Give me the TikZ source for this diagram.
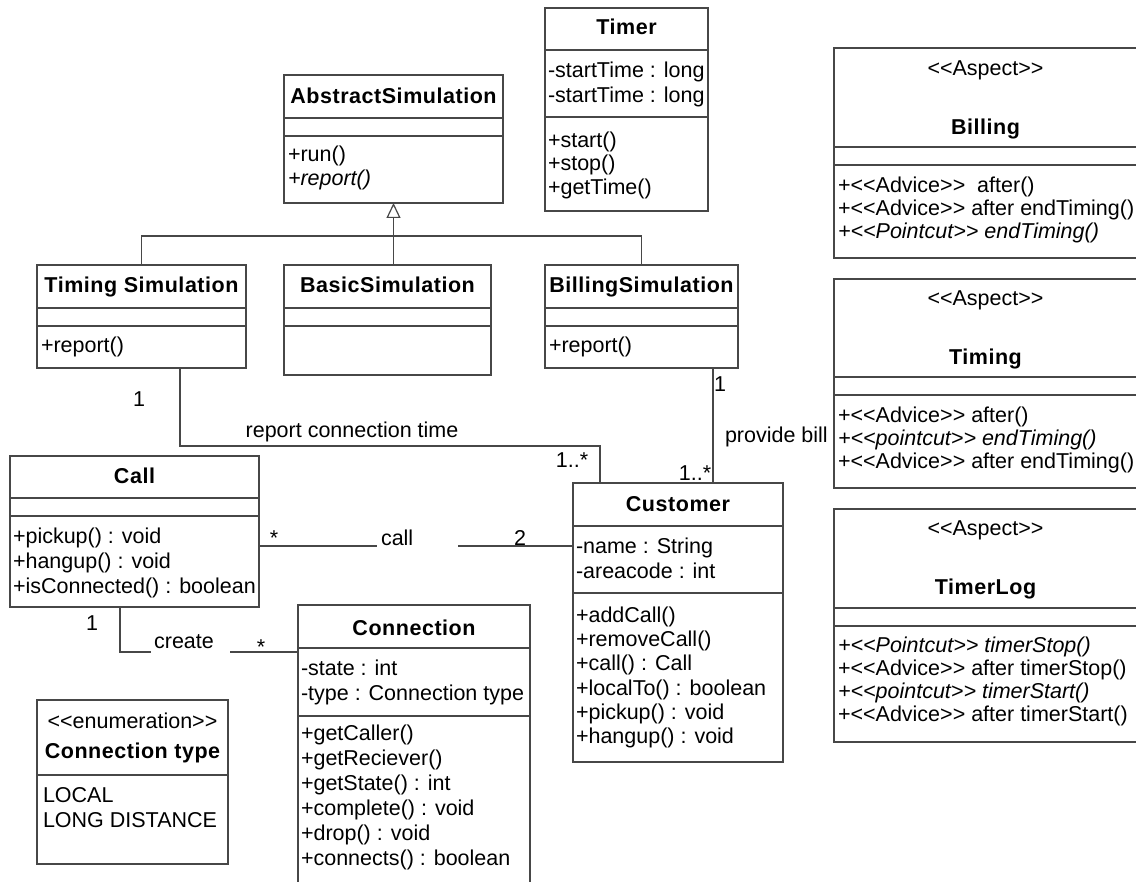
\documentclass[tikz,border=0pt]{standalone}
\usepackage{fontspec}
\newfontfamily\umlfont{Liberation Sans}[BoldFeatures={LetterSpace=2.5}]
\usetikzlibrary{arrows.meta}
\tikzset{
  umlline/.style={draw=black!72, line width=1.2pt},
  clsbox/.style={umlline, rectangle, inner sep=0pt, outer sep=0pt, anchor=north west},
  txt/.style={inner sep=0pt, outer sep=0pt, text=black,
    font=\umlfont\fontsize{21.5}{24}\selectfont},
  ttl/.style={txt, anchor=base, font=\umlfont\bfseries\fontsize{21.5}{24}\selectfont},
  lbl/.style={txt, anchor=base},
}
% class rectangle: name, left, top, right, bottom
\newcommand{\umlbox}[5]{%
  \node[clsbox, minimum width={#4-#2}, minimum height={#5-#3}] (#1) at (#2,#3) {};}
% compartment divider: box, y
\newcommand{\umlsep}[2]{\draw[umlline] (#1.west |- 0,#2) -- (#1.east |- 0,#2);}
% compartment lines: prefix, x, first baseline, line step, list
\newcommand{\umltext}[5]{%
  \foreach \lntext [count=\i] in {#5} {%
    \node[txt, anchor=base west] (#1-\i) at (#2, {#3+(\i-1)*#4}) {\lntext};}}
\begin{document}
\begin{tikzpicture}[x=1pt, y=-1pt]
\clip (0,0) rectangle (1136,882);
\fill[white] (0,0) rectangle (1136,882);

% ---- AbstractSimulation
\umlbox{abs}{284}{75}{503}{203}
\umlsep{abs}{118}\umlsep{abs}{136}
\node[ttl] (abs-name) at (abs.north |- 0,104) {AbstractSimulation};
\umltext{absm}{288}{162}{23.5}{+run(), \itshape +report()}

% ---- Timer
\umlbox{timer}{545}{8}{708}{211}
\umlsep{timer}{50}\umlsep{timer}{117}
\node[ttl] (timer-name) at (timer.north |- 0,35) {Timer};
\umltext{timera}{548}{77.5}{25}{-startTime : long, -startTime : long}
\umltext{timerm}{548}{147.5}{23.5}{+start(), +stop(), +getTime()}

% ---- Aspect: Billing
\umlbox{billing}{834}{48}{1137}{258}
\umlsep{billing}{147}\umlsep{billing}{165}
\node[lbl] (billing-st) at (billing.north |- 0,75.5) {<<Aspect>>};
\node[ttl] (billing-name) at (billing.north |- 0,134.5) {Billing};
\umltext{billingm}{838}{193}{23}{+<<Advice>>\ \ after(), +<<Advice>> after endTiming(), \itshape +<<Pointcut>> endTiming()}

% ---- Aspect: Timing
\umlbox{timing}{834}{279}{1137}{488}
\umlsep{timing}{377}\umlsep{timing}{395}
\node[lbl] (timing-st) at (timing.north |- 0,305.5) {<<Aspect>>};
\node[ttl] (timing-name) at (timing.north |- 0,364.5) {Timing};
\umltext{timingm}{838}{422.5}{23}{+<<Advice>> after(), \itshape +<<pointcut>> endTiming(), +<<Advice>> after endTiming()}

% ---- Aspect: TimerLog
\umlbox{tlog}{834}{509}{1137}{742}
\umlsep{tlog}{608}\umlsep{tlog}{626}
\node[lbl] (tlog-st) at (tlog.north |- 0,535.5) {<<Aspect>>};
\node[ttl] (tlog-name) at (tlog.north |- 0,594.5) {TimerLog};
\umltext{tlogm}{838}{652.5}{23}{\itshape +<<Pointcut>> timerStop(), +<<Advice>> after timerStop(), \itshape +<<pointcut>> timerStart(), +<<Advice>> after timerStart()}

% ---- Simulations
\umlbox{timsim}{37}{265}{246}{368}
\umlsep{timsim}{308}\umlsep{timsim}{326}
\node[ttl] (timsim-name) at (timsim.north |- 0,293) {Timing Simulation};
\umltext{timsimm}{41}{352.5}{24}{+report()}

\umlbox{basic}{284}{265}{491}{375}
\umlsep{basic}{308}\umlsep{basic}{326}
\node[ttl] (basic-name) at (basic.north |- 0,293) {BasicSimulation};

\umlbox{bilsim}{545}{265}{738}{368}
\umlsep{bilsim}{308}\umlsep{bilsim}{326}
\node[ttl] (bilsim-name) at (bilsim.north |- 0,293) {BillingSimulation};
\umltext{bilsimm}{549}{352.5}{24}{+report()}

% ---- Call
\umlbox{call}{10}{456}{259}{607}
\umlsep{call}{498}\umlsep{call}{516}
\node[ttl] (call-name) at (call.north |- 0,484) {Call};
\umltext{callm}{13}{543.5}{25}{+pickup() : void, +hangup() : void, +isConnected() : boolean}

% ---- Customer
\umlbox{cust}{573}{483}{783}{762}
\umlsep{cust}{526}\umlsep{cust}{593}
\node[ttl] (cust-name) at (cust.north |- 0,512) {Customer};
\umltext{custa}{576}{553.5}{24.5}{-name : String, -areacode : int}
\umltext{custm}{576}{622.5}{24.2}{+addCall(), +removeCall(), +call() : Call, +localTo() : boolean, +pickup() : void, +hangup() : void}

% ---- Connection
\umlbox{conn}{298}{605}{530}{900}
\umlsep{conn}{648}\umlsep{conn}{716}
\node[ttl] (conn-name) at (conn.north |- 0,635) {Connection};
\umltext{conna}{301}{675.5}{25}{-state : int, -type : Connection type}
\umltext{connm}{301}{740.5}{25}{+getCaller(), +getReciever(), +getState() : int, +complete() : void, +drop() : void, +connects() : boolean}

% ---- Enumeration
\umlbox{ctype}{37}{700}{228}{864}
\umlsep{ctype}{775}
\node[lbl] (ctype-st) at (ctype.north |- 0,728) {<<enumeration>>};
\node[ttl] (ctype-name) at (ctype.north |- 0,758.5) {Connection type};
\umltext{ctypel}{43}{802}{25}{LOCAL, LONG DISTANCE}

% ---- Generalization
\coordinate (genbar) at (abs.south |- 0,236);
\draw[umlline] (timsim.north) |- (genbar) -| (bilsim.north);
\draw[umlline, -{Triangle[open, width=14pt, length=15pt]}] (basic.north -| abs.south) -- (abs.south);

% ---- report connection time
\coordinate (rcbend) at (600,446);
\draw[umlline] (timsim.south -| 180,0) |- (rcbend) -- (cust.north -| rcbend);
\node[lbl] (rc-m1) at (139,407) {1};
\node[lbl] (rc-lbl) at (352,438) {report connection time};
\node[lbl] (rc-m2) at (572,468) {1..*};

% ---- provide bill
\draw[umlline] (bilsim.south -| 713,0) -- (cust.north -| 713,0);
\node[lbl] (pb-m1) at (720,392) {1};
\node[txt, anchor=base west] (pb-lbl) at (725,443) {provide bill};
\node[lbl] (pb-m2) at (695,481) {1..*};

% ---- call
\coordinate (callL) at (377,546);
\coordinate (callR) at (458,546);
\draw[umlline] (call.east |- callL) -- (callL);
\draw[umlline] (callR) -- (cust.west |- callR);
\node[lbl] (ca-m1) at (274,545) {*};
\node[txt, anchor=base west] (ca-lbl) at (381,545) {call};
\node[lbl] (ca-m2) at (520,545) {2};

% ---- create
\coordinate (crL) at (151,652);
\coordinate (crR) at (230,652);
\draw[umlline] (call.south -| 120,0) |- (crL);
\draw[umlline] (crR) -- (conn.west |- crR);
\node[lbl] (cr-m1) at (92,630) {1};
\node[lbl] (cr-lbl) at (184,648) {create};
\node[lbl] (cr-m2) at (261,654) {*};
\end{tikzpicture}
\end{document}
